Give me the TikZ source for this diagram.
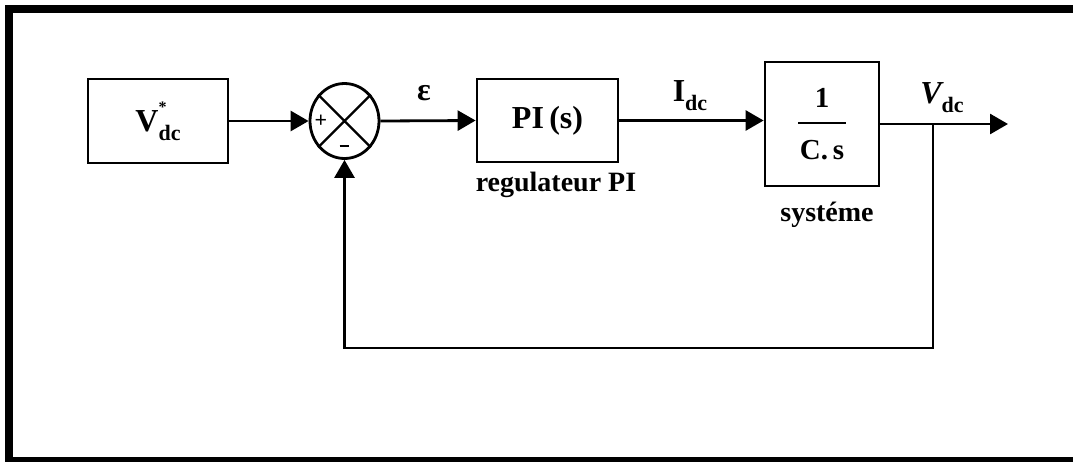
\documentclass[tikz,border=0pt]{standalone}
\usepackage{fontspec}
\setmainfont{Liberation Serif}
\usetikzlibrary{arrows.meta,shapes.geometric}
\newcommand{\subdc}{\raisebox{-0.28em}{\fontsize{22}{22}\selectfont dc}}
\begin{document}
\begin{tikzpicture}[x=1pt,y=-1pt,line width=2.8pt,
  blk/.style={draw,rectangle,inner sep=0pt,font=\bfseries\fontsize{32}{34}\selectfont},
  sumj/.style={draw,ellipse,minimum width=69pt,minimum height=75pt,inner sep=0pt},
  arr/.style={-{Triangle[length=18pt,width=20pt]}},
  lbl/.style={inner sep=0pt,font=\bfseries\fontsize{32}{34}\selectfont},
  frac/.style={inner sep=0pt,font=\bfseries\fontsize{29}{30}\selectfont},
  sgn/.style={inner sep=0pt,font=\bfseries\fontsize{22}{22}\selectfont},
  captxt/.style={inner sep=0pt,font=\bfseries\fontsize{28}{30}\selectfont}]
\useasboundingbox (0,0) rectangle (1073,461);
\clip (0,0) rectangle (1073,461);
% frame
\draw[line width=8pt] (1080,9) -- (9,9) -- (9,461) -- (1080,461);
% blocks
\node[blk,minimum width=140pt,minimum height=84pt] (ref) at (158,121)
  {V\rlap{\raisebox{0.6em}{\fontsize{16}{16}\selectfont *}}\subdc};
\node[sumj] (sum) at (344.5,121) {};
\draw[line width=2.4pt] (sum.45) -- (sum.225) (sum.135) -- (sum.315);
\node[sgn] (plus) at (321,121) {+};
\node[sgn] (minus) at (344,146) {\rule{9pt}{2pt}};
\node[blk,minimum width=141pt,minimum height=83pt] (pi) at (547.5,120.5) {PI\,(s)};
\node[blk,minimum width=114pt,minimum height=124pt] (sys) at (822,124) {};
\node[frac] (num) at (822,98) {1};
\node[frac] (den) at (822,150) {C.\,s};
\draw[line width=2pt] (798,123) -- (846,123);
% labels
\node[lbl] (eps) at (424,93) {ε};
\node[lbl] (idc) at (690,96) {I\subdc};
\node[lbl] (vdc) at (942,98) {\itshape V\upshape\subdc};
\node[captxt] (regl) at (556,185) {regulateur PI};
\node[captxt] (sysl) at (827,215) {systéme};
% connectors
\coordinate (out) at (1008,124);
\coordinate (br) at (933,124);
\coordinate (fb) at (933,348);
\draw[arr] (ref.east) -- (sum.west);
\draw[arr] (sum.east) -- (pi.west);
\draw[arr] (pi.east) -- (pi.east -| sys.west);
\draw[arr] (sys.east) -- (out);
\draw[arr] (br) -- (fb) -| (sum.south);
\end{tikzpicture}
\end{document}
